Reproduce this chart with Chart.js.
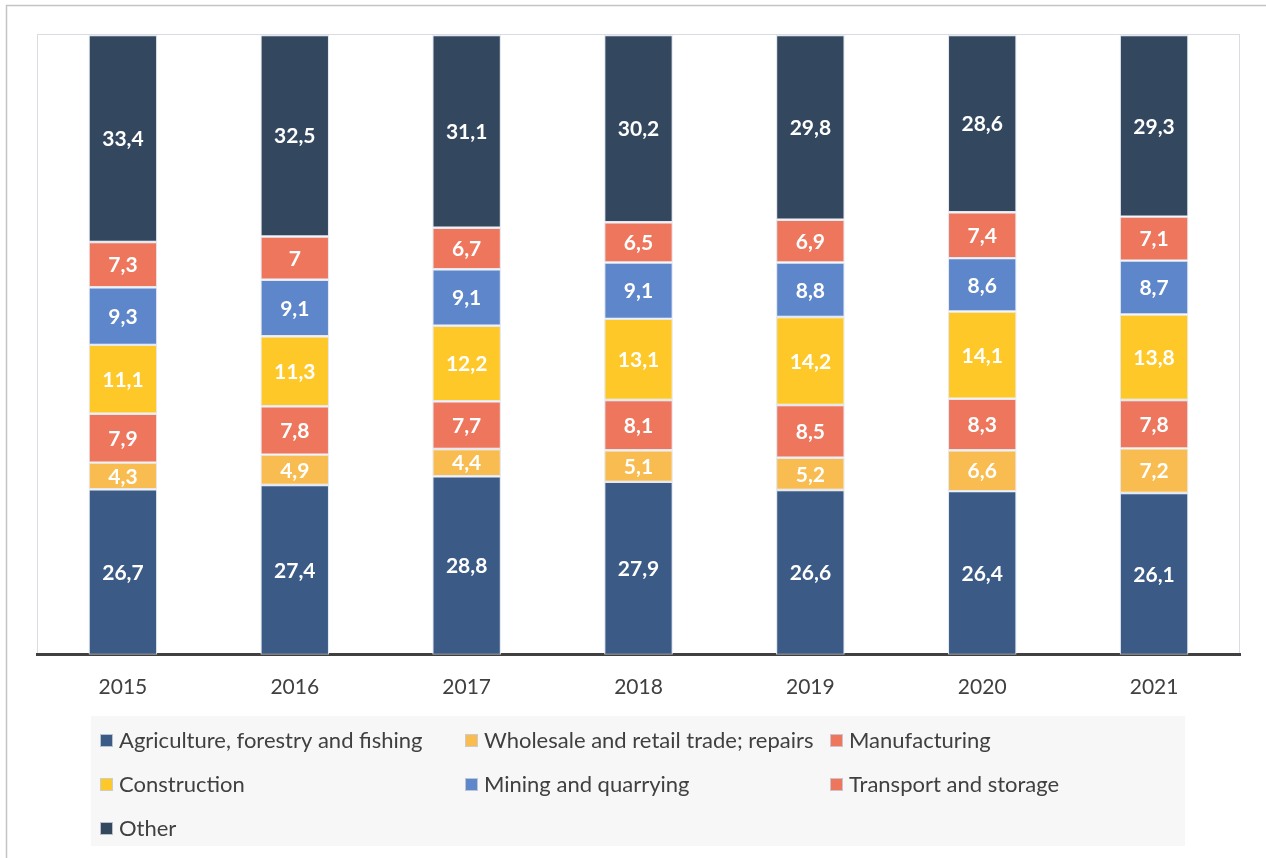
<!DOCTYPE html>
<html>
<head>
<meta charset="utf-8">
<script src="https://cdn.jsdelivr.net/npm/chart.js@4/dist/chart.umd.min.js"></script>
<style>
  html, body { margin: 0; padding: 0; background: #fff; }
  #wrap { position: relative; width: 1266px; height: 858px; }
</style>
</head>
<body>
<div id="wrap"><canvas id="chart" width="1266" height="858"></canvas></div>
<script>
const years = ["2015", "2016", "2017", "2018", "2019", "2020", "2021"];

const agriculture = [26.7, 27.4, 28.8, 27.9, 26.6, 26.4, 26.1];
const wholesale = [4.3, 4.9, 4.4, 5.1, 5.2, 6.6, 7.2];
const manufacturing = [7.9, 7.8, 7.7, 8.1, 8.5, 8.3, 7.8];
const construction = [11.1, 11.3, 12.2, 13.1, 14.2, 14.1, 13.8];
const mining = [9.3, 9.1, 9.1, 9.1, 8.8, 8.6, 8.7];
const transport = [7.3, 7, 6.7, 6.5, 6.9, 7.4, 7.1];
const other = [33.4, 32.5, 31.1, 30.2, 29.8, 28.6, 29.3];

const FONT = "Lato, 'Open Sans', sans-serif";

function ds(label, data, color) {
  return {
    label: label,
    data: data,
    backgroundColor: color,
    borderColor: "rgba(225,230,238,0.9)",
    borderWidth: 1.2,
    borderSkipped: false,
    categoryPercentage: 1,
    barPercentage: 0.4,
  };
}

// white labels in the middle of each segment
const segLabels = {
  id: "segLabels",
  afterDatasetsDraw(chart) {
    const ctx = chart.ctx;
    ctx.save();
    ctx.fillStyle = "#ffffff";
    ctx.font = "bold 21px " + FONT;
    ctx.textAlign = "center";
    ctx.textBaseline = "middle";
    chart.data.datasets.forEach((d, di) => {
      const meta = chart.getDatasetMeta(di);
      meta.data.forEach((bar, i) => {
        const txt = String(d.data[i]).replace(".", ",");
        ctx.fillText(txt, bar.x, (bar.y + bar.base) / 2 + 1);
      });
    });
    ctx.restore();
  },
};

// frame, plot border and the legend box
const frame = {
  id: "frame",
  beforeDraw(chart) {
    const ctx = chart.ctx;
    const a = chart.chartArea;
    ctx.save();
    ctx.strokeStyle = "#c4c4c4";
    ctx.lineWidth = 1.5;
    ctx.beginPath();
    ctx.moveTo(6.5, 858);
    ctx.lineTo(6.5, 5.5);
    ctx.lineTo(1266, 5.5);
    ctx.stroke();
    ctx.strokeStyle = "#d9dde3";
    ctx.lineWidth = 1;
    ctx.strokeRect(a.left + 0.5, a.top - 0.5, a.right - a.left - 1, a.bottom - a.top);
    ctx.restore();
  },
  afterDraw(chart) {
    const ctx = chart.ctx;
    ctx.save();
    ctx.fillStyle = "#f7f7f7";
    ctx.fillRect(91, 716, 1094, 130);
    const cols = [100, 465, 830];
    const rows = [740, 784, 828];
    ctx.font = "22px " + FONT;
    ctx.textBaseline = "middle";
    chart.data.datasets.forEach((d, i) => {
      const x = cols[i % 3];
      const y = rows[Math.floor(i / 3)];
      ctx.fillStyle = d.backgroundColor;
      ctx.fillRect(x, y - 6, 13, 13);
      ctx.strokeStyle = "rgba(200,205,215,0.9)";
      ctx.lineWidth = 1;
      ctx.strokeRect(x + 0.5, y - 5.5, 12, 12);
      ctx.fillStyle = "#404040";
      ctx.fillText(d.label, x + 19, y + 1);
    });
    ctx.restore();
  },
};

new Chart(document.getElementById("chart").getContext("2d"), {
  type: "bar",
  data: {
    labels: years,
    datasets: [
      ds("Agriculture, forestry and fishing", agriculture, "#3b5b86"),
      ds("Wholesale and retail trade; repairs", wholesale, "#f8bc50"),
      ds("Manufacturing", manufacturing, "#ee765d"),
      ds("Construction", construction, "#fec828"),
      ds("Mining and quarrying", mining, "#5e86ca"),
      ds("Transport and storage", transport, "#ee765d"),
      ds("Other", other, "#33475f"),
    ],
  },
  options: {
    responsive: false,
    animation: false,
    layout: {
      padding: { left: 37, right: 26, top: 35, bottom: 146 },
    },
    plugins: {
      legend: { display: false },
      tooltip: { enabled: false },
    },
    scales: {
      x: {
        stacked: true,
        grid: { display: false },
        border: { display: true, color: "#404040", width: 3 },
        ticks: {
          color: "#404040",
          font: { family: FONT, size: 21 },
          padding: 12,
        },
      },
      y: {
        stacked: true,
        display: false,
        min: 0,
        max: 100,
      },
    },
  },
  plugins: [frame, segLabels],
});
</script>
</body>
</html>
